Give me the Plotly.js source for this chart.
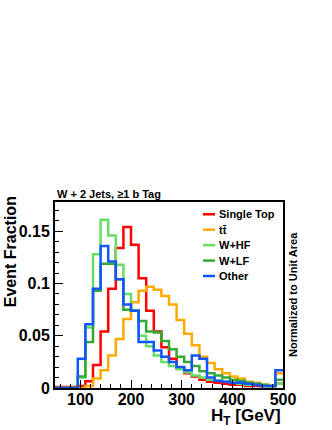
<!DOCTYPE html>
<html>
<head>
<meta charset="utf-8">
<script src="https://cdn.plot.ly/plotly-3.0.1.min.js"></script>
<style>
  html, body { margin: 0; padding: 0; background: #fff; }
  #container { width: 332px; height: 430px; }
</style>
</head>
<body>
<div id="container"></div>
<script>
// H_T binning: 30 bins of 15 GeV from 50 to 500
const htLow = 50;
const htBinWidth = 15;

const seriesNames = ["Single Top", "tt\u0304", "W+HF", "W+LF", "Other"];
const seriesColors = ["#ff0000", "#ffaa00", "#66dd66", "#33aa33", "#1155ff"];

const singleTop = [0.001, 0.001, 0.001, 0.002, 0.0065, 0.022, 0.054, 0.095, 0.134, 0.154,
                   0.137, 0.105, 0.074, 0.054, 0.039, 0.028, 0.019, 0.014, 0.011, 0.008,
                   0.006, 0.005, 0.004, 0.003, 0.003, 0.002, 0.002, 0.002, 0.002, 0.004];
const ttbar = [0, 0, 0, 0, 0.002, 0.009, 0.017, 0.031, 0.047, 0.066,
               0.082, 0.093, 0.097, 0.094, 0.088, 0.080, 0.065, 0.052, 0.041, 0.030,
               0.024, 0.018, 0.014, 0.011, 0.009, 0.006, 0.005, 0.003, 0.002, 0.014];
const wHF = [0, 0, 0, 0.010, 0.058, 0.128, 0.161, 0.146, 0.118, 0.090,
             0.074, 0.050, 0.040, 0.031, 0.025, 0.021, 0.018, 0.015, 0.012, 0.010,
             0.008, 0.007, 0.006, 0.005, 0.004, 0.003, 0.003, 0.002, 0.002, 0.004];
const wLF = [0, 0, 0, 0.011, 0.044, 0.093, 0.119, 0.119, 0.104, 0.075,
             0.074, 0.064, 0.054, 0.053, 0.045, 0.037, 0.030, 0.025, 0.021, 0.016,
             0.014, 0.012, 0.010, 0.008, 0.007, 0.005, 0.004, 0.003, 0.002, 0.008];
const other = [0, 0, 0, 0.028, 0.061, 0.095, 0.136, 0.121, 0.104, 0.080,
               0.074, 0.044, 0.044, 0.036, 0.030, 0.025, 0.020, 0.017, 0.031, 0.028,
               0.010, 0.007, 0.006, 0.005, 0.005, 0.004, 0.003, 0.002, 0.002, 0.017];

const allSeries = [singleTop, ttbar, wHF, wLF, other];

const edges = Array.from({length: singleTop.length + 1}, (_, i) => htLow + htBinWidth * i);

const boldFont = {family: "Liberation Sans, Arial, sans-serif", color: "#000", weight: "bold"};
const lineW = 2.5;

const traces = allSeries.map((vals, k) => ({
    x: edges,
    y: vals.concat([vals[vals.length - 1]]),
    type: "scatter",
    mode: "lines",
    line: {shape: "hv", color: seriesColors[k], width: lineW},
    name: seriesNames[k],
    showlegend: false
}));

// ROOT-style legend box: short line sample + label, tighter rows than plotly's legend
const legTop = 0.934, legStep = 0.083;
const legendShapes = seriesNames.map((n, k) => ({
    type: "line", xref: "paper", yref: "paper",
    x0: 0.649, x1: 0.702, y0: legTop - k * legStep, y1: legTop - k * legStep,
    line: {color: seriesColors[k], width: lineW}
}));
const legendLabels = seriesNames.map((n, k) => ({
    text: n, xref: "paper", yref: "paper", x: 0.712, y: legTop - k * legStep,
    xanchor: "left", yanchor: "middle", showarrow: false,
    font: Object.assign({size: 11}, boldFont)
}));

const layout = {
    width: 332,
    height: 430,
    margin: {t: 202, r: 49, b: 42, l: 55},
    paper_bgcolor: "#fff",
    plot_bgcolor: "#fff",
    showlegend: false,
    xaxis: {
        range: [50, 500],
        dtick: 100,
        ticks: "inside", ticklen: 8, tickwidth: 1, tickcolor: "#000",
        minor: {ticks: "inside", ticklen: 4, dtick: 20, tickcolor: "#000"},
        showline: true, linecolor: "#000", linewidth: 2, mirror: true,
        showgrid: false, zeroline: false,
        ticklabelstandoff: -4,
        tickfont: Object.assign({size: 16}, boldFont)
    },
    yaxis: {
        range: [0, 0.178],
        dtick: 0.05,
        ticks: "inside", ticklen: 8, tickwidth: 1, tickcolor: "#000",
        minor: {ticks: "inside", ticklen: 4, dtick: 0.01, tickcolor: "#000"},
        showline: true, linecolor: "#000", linewidth: 2, mirror: true,
        showgrid: false, zeroline: false,
        tickfont: Object.assign({size: 16}, boldFont)
    },
    shapes: legendShapes,
    annotations: [
        {text: "W + 2 Jets, \u22651 b Tag", xref: "paper", yref: "paper", x: 0, y: 1,
         xanchor: "left", yanchor: "bottom", showarrow: false,
         font: Object.assign({size: 11}, boldFont)},
        {text: "Event Fraction", xref: "paper", yref: "paper", x: 0, y: 0.73,
         xanchor: "center", yanchor: "middle", xshift: -45, textangle: -90, showarrow: false,
         font: Object.assign({size: 16}, boldFont)},
        {text: "H<sub>T</sub> [GeV]", xref: "paper", yref: "paper", x: 1, y: 0,
         xanchor: "right", yanchor: "top", yshift: -16, showarrow: false,
         font: Object.assign({size: 17}, boldFont)},
        {text: "Normalized to Unit Area", xref: "paper", yref: "paper", x: 1, y: 0.5,
         xanchor: "center", yanchor: "middle", xshift: 10, textangle: -90, showarrow: false,
         font: Object.assign({size: 11}, boldFont)}
    ].concat(legendLabels)
};

Plotly.newPlot("container", traces, layout, {displayModeBar: false, staticPlot: true});
</script>
</body>
</html>
